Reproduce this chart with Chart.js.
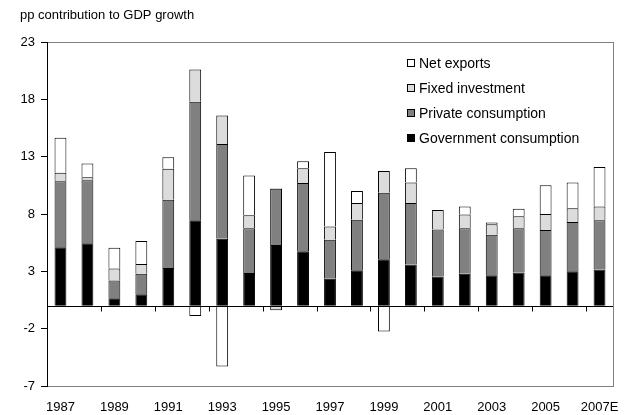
<!DOCTYPE html>
<html>
<head>
<meta charset="utf-8">
<script src="https://cdn.jsdelivr.net/npm/chart.js@4/dist/chart.umd.min.js"></script>
<style>
  html, body { margin: 0; padding: 0; background: #fff; }
  #wrap { width: 635px; height: 415px; }
</style>
</head>
<body>
<div id="wrap"><canvas id="gdpChart" width="635" height="415"></canvas></div>
<script>
const years = ["1987", "1988", "1989", "1990", "1991", "1992", "1993", "1994", "1995", "1996", "1997",
  "1998", "1999", "2000", "2001", "2002", "2003", "2004", "2005", "2006", "2007E"];
const government = [5.1, 5.45, 0.65, 1.0, 3.3, 7.45, 5.85, 2.85, 5.3, 4.75, 2.35,
  3.1, 4.05, 3.6, 2.55, 2.8, 2.65, 2.9, 2.65, 3.0, 3.15];
const privateCons = [5.75, 5.5, 1.55, 1.8, 5.95, 10.35, 8.25, 3.9, 4.9, 5.95, 3.4,
  4.4, 5.8, 5.35, 4.1, 3.95, 3.55, 3.85, 3.95, 4.3, 4.3];
const fixedInvestment = [0.75, 0.25, 1.05, 0.85, 2.7, 2.8, 2.5, 1.15, -0.4, 1.3, 1.15,
  1.45, 1.9, 1.8, 1.7, 1.2, 0.9, 1.05, 1.4, 1.2, 1.2];
const netExports = [3.05, 1.2, 1.8, 2.0, 1.0, -0.9, -5.3, 3.45, 0.05, 0.6, 6.5,
  1.05, -2.25, 1.25, 0, 0.7, 0.15, 0.65, 2.5, 2.25, 3.45];
const yTicks = [-7, -2, 3, 8, 13, 18, 23];

const FONT = "'Liberation Sans', Arial, sans-serif";

// outline each segment once: skip the edge that touches the segment below it
function edgeWidths(ctx) {
  const v = ctx.raw;
  return v < 0
    ? { top: 0, bottom: 1, left: 1, right: 1 }
    : { top: 1, bottom: 0, left: 1, right: 1 };
}

function series(label, data, color) {
  return {
    label: label,
    data: data,
    backgroundColor: color,
    borderColor: "#000",
    borderWidth: edgeWidths,
    borderSkipped: false,
    inflateAmount: 0,
    categoryPercentage: 1,
    barPercentage: 0.44
  };
}

// frame, zero line, x tick marks, title and the boxed legend inside the plot
const decorations = {
  id: "decorations",
  afterDatasetsDraw(chart) {
    const { ctx, chartArea: a, scales: { x, y } } = chart;
    const zero = Math.round(y.getPixelForValue(0)) + 0.5;
    ctx.save();
    ctx.lineWidth = 1;
    ctx.strokeStyle = "#808080";
    ctx.strokeRect(Math.round(a.left) + 0.5, Math.round(a.top) + 0.5,
      Math.round(a.right - a.left), Math.round(a.bottom - a.top));

    ctx.strokeStyle = "#000";
    ctx.beginPath();
    ctx.moveTo(Math.round(a.left) + 0.5, a.top);
    ctx.lineTo(Math.round(a.left) + 0.5, a.bottom + 1);
    ctx.moveTo(a.left, zero);
    ctx.lineTo(a.right, zero);
    for (let i = 2; i < years.length; i += 2) {
      const px = Math.round((x.getPixelForValue(i - 1) + x.getPixelForValue(i)) / 2) + 0.5;
      ctx.moveTo(px, zero);
      ctx.lineTo(px, zero + 5);
    }
    ctx.stroke();
    ctx.restore();
  },
  afterDraw(chart) {
    const { ctx } = chart;
    ctx.save();
    ctx.fillStyle = "#000";
    ctx.font = "13px " + FONT;
    ctx.textBaseline = "middle";
    ctx.textAlign = "left";
    ctx.fillText("pp contribution to GDP growth", 20, 15);

    const items = chart.data.datasets.slice().reverse();
    ctx.font = "14px " + FONT;
    items.forEach((ds, i) => {
      const cy = 63 + i * 25;
      ctx.fillStyle = ds.backgroundColor;
      ctx.fillRect(407, cy - 4, 8, 8);
      ctx.strokeStyle = "#000";
      ctx.lineWidth = 1;
      ctx.strokeRect(407.5, cy - 3.5, 7, 7);
      ctx.fillStyle = "#000";
      ctx.fillText(ds.label, 419, cy + 1);
    });
    ctx.restore();
  }
};

new Chart(document.getElementById("gdpChart"), {
  type: "bar",
  data: {
    labels: years,
    datasets: [
      series("Government consumption", government, "#000000"),
      series("Private consumption", privateCons, "#808080"),
      series("Fixed investment", fixedInvestment, "#dcdcdc"),
      series("Net exports", netExports, "#ffffff")
    ]
  },
  options: {
    responsive: false,
    animation: false,
    layout: { padding: { left: 0, right: 22, top: 42, bottom: 0 } },
    plugins: {
      legend: { display: false },
      tooltip: { enabled: false }
    },
    scales: {
      x: {
        stacked: true,
        grid: { display: false, drawTicks: false },
        border: { display: false },
        ticks: {
          autoSkip: false,
          maxRotation: 0,
          padding: 14,
          color: "#000",
          font: { family: FONT, size: 13 },
          callback: (v, i) => (i % 2 === 0 ? years[i] : "")
        },
        afterFit: s => { s.height = 29; }
      },
      y: {
        stacked: true,
        min: -7,
        max: 23,
        grid: { display: true, drawOnChartArea: false, drawTicks: true, tickLength: 6, color: "#000" },
        border: { display: false },
        ticks: {
          padding: 6,
          color: "#000",
          font: { family: FONT, size: 13 }
        },
        afterBuildTicks: s => { s.ticks = yTicks.map(v => ({ value: v })); },
        afterFit: s => { s.width = 47; }
      }
    }
  },
  plugins: [decorations]
});
</script>
</body>
</html>
